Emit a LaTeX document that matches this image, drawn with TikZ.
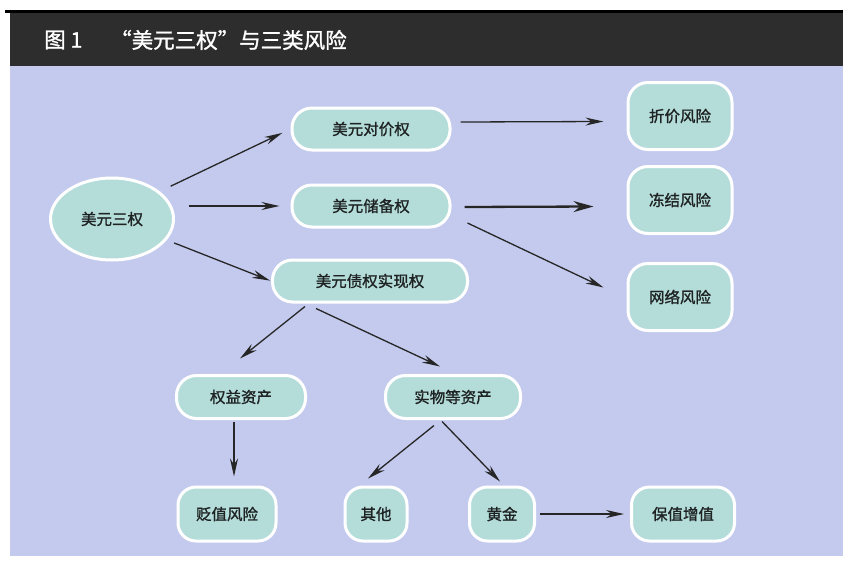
\documentclass[tikz,border=0pt]{standalone}
\usepackage{fontspec}
\newfontfamily\cjk[FakeBold=1.2]{Noto Sans CJK SC}
\newfontfamily\cjktitle[FakeBold=1.2]{Noto Sans CJK SC}
\usetikzlibrary{arrows.meta,shapes.geometric}
\definecolor{bg}{HTML}{C4CAEE}
\definecolor{hdr}{HTML}{2C2D2C}
\definecolor{nodefill}{HTML}{B4DDDA}
\definecolor{txt}{HTML}{1E2222}
\tikzset{
  base/.style={draw=white, line width=3pt, fill=nodefill, text=txt, inner sep=0pt,
    font=\cjk\fontsize{15.5}{18}\selectfont},
  pill/.style={base, rectangle, rounded corners=20pt, minimum height=42pt},
  riskbox/.style={base, rectangle, rounded corners=20pt, minimum width=104pt, minimum height=67pt},
  leaf/.style={base, rectangle, rounded corners=18pt, minimum height=54pt},
  oval/.style={base, ellipse, minimum width=123pt, minimum height=82pt},
  arr/.style={draw=black!85, line width=1.3pt, -{Stealth[length=18pt,width=8pt]}},
  arrthick/.style={draw=black!85, line width=2.3pt, -{Stealth[length=20pt,width=11pt]}},
  titletext/.style={text=white, font=\cjktitle\fontsize{21.5}{26}\selectfont, inner sep=0pt, anchor=west}
}
\begin{document}
\begin{tikzpicture}[x=1pt,y=-1pt]
\useasboundingbox (0,0) rectangle (843,563);
\fill[white] (0,0) rectangle (843,563);
\fill[bg] (10,66) rectangle (843,556);
\fill[hdr] (10,12) rectangle (843,66);
\fill[black] (5,10) rectangle (843,13);
\node[titletext] (fig) at (44,40) {图 1};
\node[titletext] (title) at (110,40) {“美元三权”与三类风险};

\node[oval] (sq) at (112,219) {美元三权};
\node[pill, minimum width=158pt] (dj) at (371,129) {美元对价权};
\node[pill, minimum width=158pt] (cb) at (371,206) {美元储备权};
\node[pill, minimum width=195pt] (zq) at (370,281) {美元债权实现权};
\node[riskbox] (rk1) at (680,116) {折价风险};
\node[riskbox] (rk2) at (680,200) {冻结风险};
\node[riskbox] (rk3) at (680,297) {网络风险};
\node[pill, minimum width=129pt, minimum height=43pt] (qy) at (241,397) {权益资产};
\node[pill, minimum width=135pt, minimum height=43pt] (sw) at (453,397) {实物等资产};
\node[leaf, minimum width=98pt] (bz) at (227,514) {贬值风险};
\node[leaf, minimum width=62pt] (qt) at (376,514) {其他};
\node[leaf, minimum width=65pt] (hj) at (502,514) {黄金};
\node[leaf, minimum width=103pt] (bzz) at (683,514) {保值增值};

\draw[arr, shorten <=12pt, shorten >=9pt] (sq.30) -- (dj.west);
\draw[arr, shorten <=14pt, shorten >=11pt] (sq.east |- cb.west) -- (cb.west);
\draw[arr, shorten <=8pt, shorten >=1pt] (sq.-21) -- (zq.west);
\draw[arr] ([shift={(9pt,7pt)}]dj.east) -- ([shift={(-23pt,-5.5pt)}]rk1.west);
\draw[arrthick] ([shift={(13pt,-1pt)}]cb.east) -- ([shift={(-33pt,-6.5pt)}]rk2.west);
\draw[arr] ([shift={(16pt,-17pt)}]cb.east) -- ([shift={(-23pt,9.5pt)}]rk3.west);
\draw[arr] ([shift={(-65pt,-3pt)}]zq.south) -- ([shift={(-1pt,15.5pt)}]qy.north);
\draw[arr] ([shift={(-54pt,-5pt)}]zq.south) -- ([shift={(-13pt,7.5pt)}]sw.north);
\draw[arr] ([shift={(-7pt,-2pt)}]qy.south) -- ([shift={(7pt,9pt)}]bz.north);
\draw[arr] ([shift={(-19pt,-5.5pt)}]sw.south) -- ([shift={(-8pt,7pt)}]qt.north);
\draw[arr] ([shift={(-11pt,-1.5pt)}]sw.south) -- ([shift={(-2pt,4pt)}]hj.north);
\draw[arr, shorten <=4pt, shorten >=6pt] (hj.east) -- (bzz.west);
\end{tikzpicture}
\end{document}
